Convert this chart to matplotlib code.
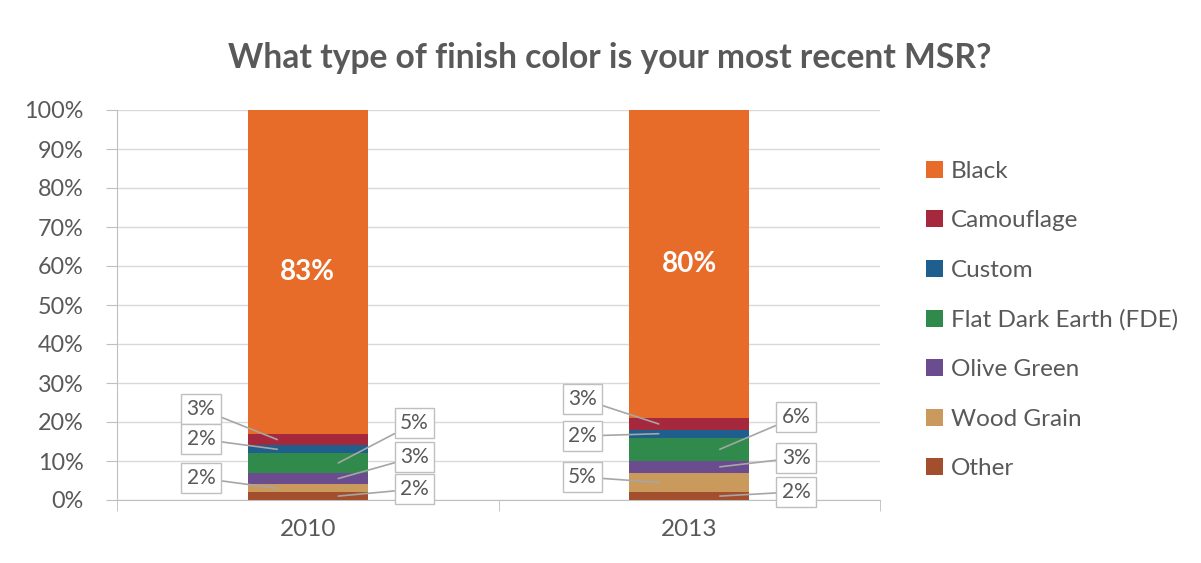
import matplotlib.pyplot as plt
import numpy as np

# Survey results (% of respondents), stacked bottom -> top
years = ['2010', '2013']
finishes = ['Other', 'Wood Grain', 'Olive Green', 'Flat Dark Earth (FDE)',
            'Custom', 'Camouflage', 'Black']
other = [2, 2]
wood_grain = [2, 5]
olive_green = [3, 3]
fde = [5, 6]
custom = [2, 2]
camouflage = [3, 3]
black = [83, 80]

colors = ['#A34E2C', '#C99A5C', '#6B4C8E', '#2F8A4C', '#1E5F8E', '#A6283C', '#E76C2A']
series = [other, wood_grain, olive_green, fde, custom, camouflage, black]

# callout boxes for the small segments: (segment index, side, box y in %)
callouts = [
    [(5, -1, 23.3), (4, -1, 15.6), (1, -1, 5.6), (3, 1, 19.7), (2, 1, 11.0), (0, 1, 2.8)],
    [(5, -1, 25.9), (4, -1, 16.4), (1, -1, 5.9), (3, 1, 21.3), (2, 1, 10.8), (0, 1, 2.1)],
]

plt.rcParams['font.family'] = ['Lato', 'DejaVu Sans']
grey = '#595959'

fig = plt.figure(figsize=(12.01, 5.63), dpi=100)
ax = fig.add_axes([117 / 1201, 1 - 500 / 563, 763 / 1201, 390 / 563])

x = np.arange(len(years))
bottom = np.zeros(len(years))
for name, vals, c in zip(finishes, series, colors):
    ax.bar(x, vals, width=0.315, bottom=bottom, color=c, label=name, zorder=3)
    bottom += np.array(vals)

# cumulative bases for locating segment midpoints
cum = np.vstack([np.zeros(len(years)), np.cumsum(np.array(series), axis=0)])

for j in range(len(years)):
    # big value inside the Black segment
    mid = (cum[6, j] + min(cum[7, j], 100)) / 2
    ax.text(x[j], mid, f'{black[j]}%', ha='center', va='center', color='white',
            fontsize=20, fontweight='bold', zorder=5)
    for idx, side, by in callouts[j]:
        seg_mid = (cum[idx, j] + cum[idx + 1, j]) / 2
        ax.annotate(f'{series[idx][j]}%', xy=(x[j] + side * 0.08, seg_mid),
                    xytext=(x[j] + side * 0.28, by), ha='center', va='center',
                    fontsize=15, color=grey, zorder=6,
                    bbox=dict(boxstyle='square,pad=0.25', fc='white', ec='#BFBFBF', lw=1),
                    arrowprops=dict(arrowstyle='-', color='#A6A6A6', lw=1.2,
                                    shrinkA=0, shrinkB=0))

ax.set_xlim(-0.5, 1.5)
ax.set_ylim(0, 100)
ax.set_yticks(np.arange(0, 101, 10))
ax.set_yticklabels([f'{v}%' for v in range(0, 101, 10)], fontsize=16.8, color=grey)
ax.set_xticks(x)
ax.set_xticklabels(years, fontsize=17.5, color=grey)
ax.tick_params(axis='x', length=0, pad=14)
ax.set_xticks([-0.5, 0.5, 1.5], minor=True)
ax.tick_params(axis='x', which='minor', length=8, color='#BFBFBF')
ax.tick_params(axis='y', length=8, color='#BFBFBF', pad=16)

ax.grid(axis='y', color='#D9D9D9', lw=1, zorder=0)
for s in ['top', 'right']:
    ax.spines[s].set_visible(False)
for s in ['left', 'bottom']:
    ax.spines[s].set_color('#BFBFBF')

fig.text(0.508, 1 - 58 / 563, 'What type of finish color is your most recent MSR?',
         ha='center', va='center', fontsize=24.2, fontweight='bold', color=grey)

handles, labels = ax.get_legend_handles_labels()
fig.legend(handles[::-1], labels[::-1], loc='upper left',
           bbox_to_anchor=(904 / 1201, 1 - 139 / 563), frameon=False,
           fontsize=17.5, handlelength=0.7, handleheight=0.7, handletextpad=0.33,
           labelspacing=1.17, labelcolor=grey)

plt.savefig('out.png', dpi=100)
